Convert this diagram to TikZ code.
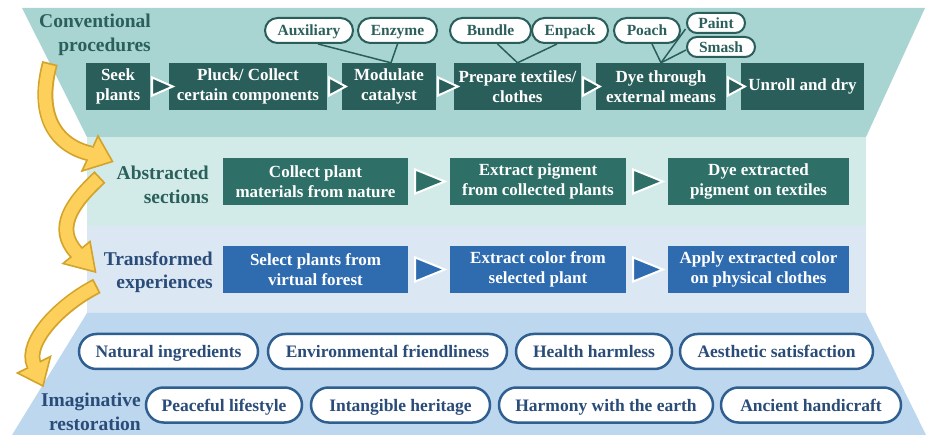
\documentclass[tikz,border=0pt]{standalone}
\usepackage{fontspec}
\setmainfont{Liberation Serif}
\usetikzlibrary{calc,shapes.misc}
\definecolor{bandA}{HTML}{A8D4D1}
\definecolor{bandB}{HTML}{D2EBE9}
\definecolor{bandC}{HTML}{DCE7F4}
\definecolor{bandD}{HTML}{BDD7EE}
\definecolor{boxA}{HTML}{2A5E5A}
\definecolor{boxB}{HTML}{2E6F68}
\definecolor{boxC}{HTML}{2E6BAF}
\definecolor{txtT}{HTML}{2B5F5B}
\definecolor{txtB}{HTML}{2A4C78}
\definecolor{pillB}{HTML}{2F5F90}
\definecolor{arrY}{HTML}{FCD05A}
\definecolor{arrG}{HTML}{D4A32A}
\newcommand\bxfont{\fontsize{17}{20.5}\selectfont\bfseries}
\newcommand\lbfont{\fontsize{19.5}{23.5}\selectfont\bfseries}
\newcommand\tpfont{\fontsize{15.5}{18}\selectfont\bfseries}
\newcommand\bpfont{\fontsize{17.5}{20}\selectfont\bfseries}
\begin{document}
\begin{tikzpicture}[x=1pt,y=-1pt,
  boxone/.style={fill=boxA,text=white,font=\bxfont,align=center,inner sep=0pt,minimum height=47pt},
  boxtwo/.style={fill=boxB,text=white,font=\bxfont,align=center,inner sep=0pt,minimum height=47pt},
  boxthree/.style={fill=boxC,text=white,font=\bxfont,align=center,inner sep=0pt,minimum height=47pt},
  toppill/.style={rounded rectangle,draw=boxA,line width=2pt,fill=white,text=txtT,font=\tpfont,inner sep=0pt,minimum height=25pt,text height=13.5pt,text depth=3pt},
  smallpill/.style={toppill,minimum height=20pt},
  botpill/.style={rounded rectangle,draw=pillB,line width=2.5pt,fill=white,text=txtB,font=\bpfont,inner sep=0pt,minimum height=35pt,text height=15pt,text depth=3pt},
  lblteal/.style={text=txtT,font=\lbfont,align=right,inner sep=0pt,anchor=east},
  lblblue/.style={text=txtB,font=\lbfont,align=right,inner sep=0pt,anchor=east},
  triA/.style={draw=white,line width=2pt,fill=boxA,line join=miter},
  triB/.style={draw=white,line width=2pt,fill=boxB,line join=miter},
  triC/.style={draw=white,line width=2pt,fill=boxC,line join=miter},
  pline/.style={draw=boxA,line width=1.5pt},
  shaftout/.style={draw=arrG,line width=16pt},
  shaftin/.style={draw=arrY,line width=12.5pt},
  head/.style={draw=arrG,fill=arrY,line width=1.6pt,line join=miter}
]
\useasboundingbox (0,0) rectangle (926,435);
% bands
\fill[bandA] (22,8) -- (925,8) -- (866,137) -- (87,137) -- cycle;
\fill[bandB] (87,137) rectangle (866,226);
\fill[bandC] (87,226) rectangle (866,313);
\fill[bandD] (87,313) -- (866,313) -- (926,435) -- (12,435) -- cycle;

% labels
\node[lblteal] (lconv) at (151,35) {Conventional\\procedures};
\node[lblteal] (labs) at (209,185) {Abstracted\\sections};
\node[lblblue] (ltra) at (213,272) {Transformed\\experiences};
\node[lblblue] (limg) at (141,412) {Imaginative\\restoration};

% row 1
\node[boxone,minimum width=64pt] (s1) at (118,86.5) {Seek\\plants};
\node[boxone,minimum width=158pt] (s2) at (248,86.5) {Pluck/ Collect\\certain components};
\node[boxone,minimum width=94pt] (s3) at (389,86.5) {Modulate\\catalyst};
\node[boxone,minimum width=127pt] (s4) at (517.5,86.5) {Prepare textiles/\\clothes};
\node[boxone,minimum width=130pt] (s5) at (661,86.5) {Dye through\\external means};
\node[boxone,minimum width=123pt] (s6) at (802.5,86.5) {Unroll and dry};
\foreach \a/\b in {s1/s2,s2/s3,s3/s4,s4/s5,s5/s6}{
  \draw[triA] ($(\a.east)+(2,-9)$) -- ($(\b.west)+(4,0)$) -- ($(\a.east)+(2,9)$) -- cycle;
}

% top pills
\node[toppill,minimum width=88pt] (aux) at (309,30.5) {Auxiliary};
\node[toppill,minimum width=79pt] (enz) at (397.5,30.5) {Enzyme};
\node[toppill,minimum width=81pt] (bun) at (490.5,30.5) {Bundle};
\node[toppill,minimum width=76pt] (enp) at (570,30.5) {Enpack};
\node[toppill,minimum width=66pt] (poa) at (647,30.5) {Poach};
\node[smallpill,minimum width=58pt] (pai) at (716,23) {Paint};
\node[smallpill,minimum width=68pt] (sma) at (721,47) {Smash};
\draw[pline] ($(aux.south)+(9,0)$) -- ($(s3.north)+(2,0)$);
\draw[pline] (enz.south) -- ($(s3.north)+(2,0)$);
\draw[pline] ($(bun.south)+(7,0)$) -- (s4.north);
\draw[pline] ($(enp.south)+(-13,0)$) -- (s4.north);
\draw[pline] ($(poa.south)+(5,0)$) -- (s5.north);
\draw[pline] ($(pai.west)+(-0.5,6)$) -- (s5.north);
\draw[pline] ($(sma.west)+(0,3)$) -- (s5.north);

% row 2
\node[boxtwo,minimum width=185pt] (a1) at (315.5,181.5) {Collect plant\\materials from nature};
\node[boxtwo,minimum width=176pt] (a2) at (538,181.5) {Extract pigment\\from collected plants};
\node[boxtwo,minimum width=181pt] (a3) at (758.5,181.5) {Dye extracted\\pigment on textiles};
\foreach \a/\b in {a1/a2,a2/a3}{
  \draw[triB] ($(\a.east)+(7,-12)$) -- ($(\b.west)+(-5,0)$) -- ($(\a.east)+(7,12)$) -- cycle;
}

% row 3
\node[boxthree,minimum width=185pt] (t1) at (315.5,269.5) {Select plants from\\virtual forest};
\node[boxthree,minimum width=176pt] (t2) at (538,269.5) {Extract color from\\selected plant};
\node[boxthree,minimum width=181pt] (t3) at (758.5,269.5) {Apply extracted color\\on physical clothes};
\foreach \a/\b in {t1/t2,t2/t3}{
  \draw[triC] ($(\a.east)+(7,-12)$) -- ($(\b.west)+(-5,0)$) -- ($(\a.east)+(7,12)$) -- cycle;
}

% bottom pills
\node[botpill,minimum width=179pt] (p1) at (168.5,351.5) {Natural ingredients};
\node[botpill,minimum width=239pt] (p2) at (387.5,351.5) {Environmental friendliness};
\node[botpill,minimum width=156pt] (p3) at (594,351.5) {Health harmless};
\node[botpill,minimum width=193pt] (p4) at (776.5,351.5) {Aesthetic satisfaction};
\node[botpill,minimum width=156pt] (q1) at (224,405) {Peaceful lifestyle};
\node[botpill,minimum width=179pt] (q2) at (400.5,405) {Intangible heritage};
\node[botpill,minimum width=214pt] (q3) at (606,405) {Harmony with the earth};
\node[botpill,minimum width=180pt] (q4) at (811,405) {Ancient handicraft};

% yellow arrows
% arrow 1
\coordinate (y1s) at (50,63);
\coordinate (y1e) at (90,153.5);
\draw[shaftout] (y1s) .. controls (36,115) and (55,145) .. (y1e);
\draw[head] (98,136) -- (112.5,161.5) -- (82,171) -- cycle;
\draw[shaftin,shorten <=1.8pt] (y1s) .. controls (36,115) and (55,145) .. (y1e) -- ++(2.7,1.2);
% arrow 2
\coordinate (y2s) at (100,177);
\coordinate (y2e) at (76.5,252.5);
\draw[shaftout] (y2s) .. controls (72,203) and (54,228) .. (y2e);
\draw[head] (90,241.5) -- (95.5,272) -- (63,263.5) -- cycle;
\draw[shaftin,shorten <=1.8pt] (y2s) .. controls (72,203) and (54,228) .. (y2e) -- ++(1.8,2.4);
% arrow 3
\coordinate (y3s) at (97,286);
\coordinate (y3e) at (34,365);
\draw[shaftout] (y3s) .. controls (61,304) and (24,342) .. (y3e);
\draw[head] (50.5,356.5) -- (43,386) -- (17.5,373) -- cycle;
\draw[shaftin,shorten <=1.8pt] (y3s) .. controls (61,304) and (24,342) .. (y3e) -- ++(1.2,2.7);
\end{tikzpicture}
\end{document}
